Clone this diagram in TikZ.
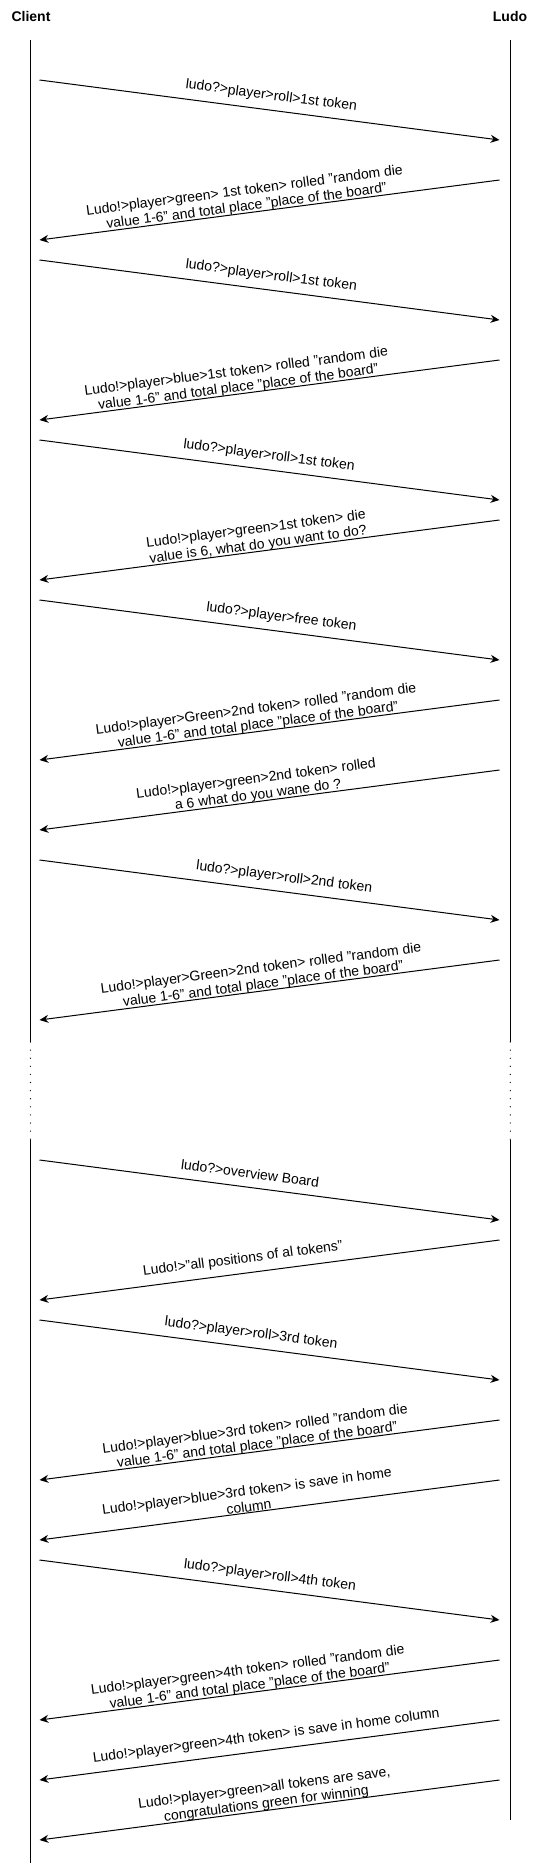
\documentclass[tikz,border=0pt]{standalone}
\usepackage{fontspec}
\setmainfont{Liberation Sans}
\usetikzlibrary{arrows.meta}

\begin{document}
\begin{tikzpicture}[x=1pt,y=-1pt,line width=1pt,
	actor/.style={font=\fontsize{14}{16}\selectfont\bfseries},
	msg/.style={-{Stealth[length=9pt,width=8pt,inset=3pt]}},
	lbl/.style={sloped,anchor=center,yshift=14pt,align=center,inner sep=0pt,font=\fontsize{14}{16}\selectfont}]
	\useasboundingbox (0,0) rectangle (541,1863);

	%ACTORS
	\node[actor] (client) at (31,16) {Client};
	\node[actor] (ludo) at (510,16) {Ludo};

	%LIFELINES
	\foreach \x/\e in {30.4/1863,510.3/1820}{
		\draw (\x,40)--(\x,1042);				%solid, top
		\draw[line width=1.3pt,line cap=round,dash pattern=on 0pt off 8.1pt] (\x,1042)--(\x,1142);	%dotted gap
		\draw (\x,1140)--(\x,\e);				%solid, bottom
	}

	%END POINTS ON BOTH LIFELINES
	\foreach \y in {80,140,180,240,260,320,360,420,440,500,520,580,600,660,700,760,770,830,860,920,960,1020,1160,1220,1240,1300,1320,1380,1420,1480,1540,1560,1620,1660,1720,1780,1840}{
		\coordinate (c\y) at (39.5,\y);			%client side
		\coordinate (l\y) at (499.5,\y);		%ludo side
	}

	%MESSAGES, FIRST PART
	\draw[msg] (c80)--node[lbl,pos=0.5]{ludo?>player>roll>1st token} (l140);
	\draw[msg] (l180)--node[lbl,pos=0.548]{Ludo!>player>green> 1st token> rolled "random die\\value 1-6" and total place "place of the board"} (c240);
	\draw[msg] (c260)--node[lbl,pos=0.5]{ludo?>player>roll>1st token} (l320);
	\draw[msg] (l360)--node[lbl,pos=0.566]{Ludo!>player>blue>1st token> rolled "random die\\value 1-6" and total place "place of the board"} (c420);
	\draw[msg] (c440)--node[lbl,pos=0.495]{ludo?>player>roll>1st token} (l500);
	\draw[msg] (l520)--node[lbl,pos=0.523]{Ludo!>player>green>1st token> die\\value is 6, what do you want to do?} (c580);
	\draw[msg] (c600)--node[lbl,pos=0.522]{ludo?>player>free token} (l660);
	\draw[msg] (l700)--node[lbl,pos=0.523]{Ludo!>player>Green>2nd token> rolled "random die\\value 1-6" and total place "place of the board"} (c760);
	\draw[msg] (l770)--node[lbl,pos=0.523]{Ludo!>player>green>2nd token> rolled\\a 6 what do you wane do ?} (c830);
	\draw[msg] (c860)--node[lbl,pos=0.528]{ludo?>player>roll>2nd token} (l920);
	\draw[msg] (l960)--node[lbl,pos=0.512]{Ludo!>player>Green>2nd token> rolled "random die\\value 1-6" and total place "place of the board"} (c1020);

	%MESSAGES, SECOND PART
	\draw[msg] (c1160)--node[lbl,pos=0.454]{ludo?>overview Board} (l1220);
	\draw[msg] (l1240)--node[lbl,pos=0.554]{Ludo!>"all positions of al tokens"} (c1300);
	\draw[msg] (c1320)--node[lbl,pos=0.456]{ludo?>player>roll>3rd token} (l1380);
	\draw[msg] (l1420)--node[lbl,pos=0.525]{Ludo!>player>blue>3rd token> rolled "random die\\value 1-6" and total place "place of the board"} (c1480);
	\draw[msg] (l1480)--node[lbl,pos=0.543]{Ludo!>player>blue>3rd token> is save in home\\column} (c1540);
	\draw[msg] (c1560)--node[lbl,pos=0.497]{ludo?>player>roll>4th token} (l1620);
	\draw[msg] (l1660)--node[lbl,pos=0.541]{Ludo!>player>green>4th token> rolled "random die\\value 1-6" and total place "place of the board"} (c1720);
	\draw[msg] (l1720)--node[lbl,pos=0.503]{Ludo!>player>green>4th token> is save in home column} (c1780);
	\draw[msg] (l1780)--node[lbl,pos=0.505]{Ludo!>player>green>all tokens are save,\\congratulations green for winning} (c1840);
\end{tikzpicture}
\end{document}
